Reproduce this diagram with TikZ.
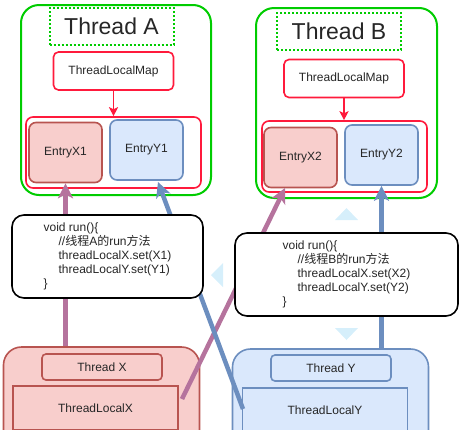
\documentclass[tikz,border=0pt]{standalone}
\usepackage{fontspec}
\setmainfont{Liberation Sans}
\newfontfamily\cjk{Noto Sans CJK SC}
\usepackage{xcolor}
\usetikzlibrary{arrows.meta}

\definecolor{boxgreen}{HTML}{00CC00}
\definecolor{mapred}{HTML}{FF1A3C}
\definecolor{pinkfill}{HTML}{F8CECC}
\definecolor{pinkline}{HTML}{B85450}
\definecolor{bluefill}{HTML}{DAE8FC}
\definecolor{blueline}{HTML}{6C8EBF}
\definecolor{purpleline}{HTML}{B5739D}
\definecolor{hintblue}{HTML}{D6EFFB}

\begin{document}
\begin{tikzpicture}[x=1pt,y=-1pt,
    every node/.style={font=\fontsize{12}{14}\selectfont, text=black!85, inner sep=0pt},
    thread/.style={draw=boxgreen, line width=2pt, rounded corners=18pt, minimum width=#1, minimum height=190pt},
    title/.style={draw=boxgreen, line width=2pt, dotted, minimum width=124pt, minimum height=37pt, font=\fontsize{23}{26}\selectfont},
    map/.style={draw=mapred, fill=white, line width=1.6pt, rounded corners=5pt, minimum width=120pt, minimum height=38pt},
    table/.style={draw=mapred, line width=1.6pt, rounded corners=7pt, minimum width=#1, minimum height=71pt},
    entryx/.style={draw=pinkline, fill=pinkfill, line width=1.6pt, rounded corners=7pt, minimum width=73pt, minimum height=60pt},
    entryy/.style={draw=blueline, fill=bluefill, line width=1.6pt, rounded corners=7pt, minimum width=73pt, minimum height=60pt},
    code/.style={draw=black, fill=white, line width=1.6pt, rounded corners=12pt, minimum width=#1, minimum height=83pt, align=left},
    owner/.style={draw=#1line, fill=#1fill, line width=1.6pt, rounded corners=18pt, minimum width=196pt, minimum height=130pt},
    label/.style={draw=#1line, fill=#1fill, line width=1.6pt, rounded corners=4pt, minimum width=120pt, minimum height=26pt},
    local/.style={draw=#1line, fill=#1fill, line width=1.6pt, minimum width=165pt, minimum height=44pt},
    link/.style={line width=4.5pt, -{Stealth[length=15pt,width=15pt,inset=4pt]}},
    hint/.style={fill=hintblue}]

\useasboundingbox (0,0) rectangle (460,429);
\clip (0,0) rectangle (460,429);

% thread A
\node[thread=190pt] (threadA) at (116,100) {};
\node[title] (titleA) at (111.5,26.5) {Thread A};
\node[map] (mapA) at (113.5,71) {ThreadLocalMap};
\node[table=175pt] (tableA) at (113.5,152.5) {};
\node[entryx] (entryXA) at (65.5,152.5) {EntryX1};
\node[entryy] (entryYA) at (146.5,150) {EntryY1};
\draw[mapred, line width=1.6pt, -{Stealth[length=9pt,width=9pt,inset=2pt]}] (mapA.south) -- (mapA.south |- tableA.north);

% thread B
\node[thread=181pt] (threadB) at (346.5,103) {};
\node[title] (titleB) at (339,31.5) {Thread B};
\node[map] (mapB) at (344,78.5) {ThreadLocalMap};
\node[table=165pt] (tableB) at (344.5,156.5) {};
\node[entryx] (entryXB) at (300.5,157.5) {EntryX2};
\node[entryy] (entryYB) at (381.5,155) {EntryY2};
\draw[mapred, line width=1.6pt, -{Stealth[length=9pt,width=9pt,inset=2pt]}] (mapB.south) -- (mapB.south |- tableB.north);

% the two ThreadLocal objects
\node[owner=pink] (threadX) at (101.5,412) {};
\node[label=pink] (nameX) at (102,367) {Thread X};
\node[local=pink] (localX) at (95.5,408) {ThreadLocalX};
\node[owner=blue] (threadY) at (330.5,414) {};
\node[label=blue] (nameY) at (331,368) {Thread Y};
\node[local=blue] (localY) at (325,410) {ThreadLocalY};

% references
\coordinate (startXB) at (182,399);
\coordinate (tipXB) at (285,188);
\coordinate (startYA) at (243,409);
\coordinate (tipYA) at (158,182);
\draw[link, purpleline] (entryXA.south |- threadX.north) -- (entryXA.south);
\draw[link, purpleline] (startXB) -- (tipXB);
\draw[link, blueline] (startYA) -- (tipYA);
\draw[link, blueline] (entryYB.south |- threadY.north) -- (entryYB.south);

% run methods
\node[code=191pt] (runA) at (107.5,256.5) {void run()\{\\
    \hspace*{15pt}//{\cjk 线程}A{\cjk 的}run{\cjk 方法}\\
    \hspace*{15pt}threadLocalX.set(X1)\\
    \hspace*{15pt}threadLocalY.set(Y1)\\
    \}};
\node[code=223pt] (runB) at (346.5,274.5) {void run()\{\\
    \hspace*{15pt}//{\cjk 线程}B{\cjk 的}run{\cjk 方法}\\
    \hspace*{15pt}threadLocalX.set(X2)\\
    \hspace*{15pt}threadLocalY.set(Y2)\\
    \}};

% hover marks round runB
\fill[hint] (211,275) -- (223,263) -- (223,287) -- cycle;
\fill[hint] (335,220) -- (358,220) -- (346.5,208) -- cycle;
\fill[hint] (335,328) -- (358,328) -- (346.5,340) -- cycle;
\end{tikzpicture}
\end{document}
